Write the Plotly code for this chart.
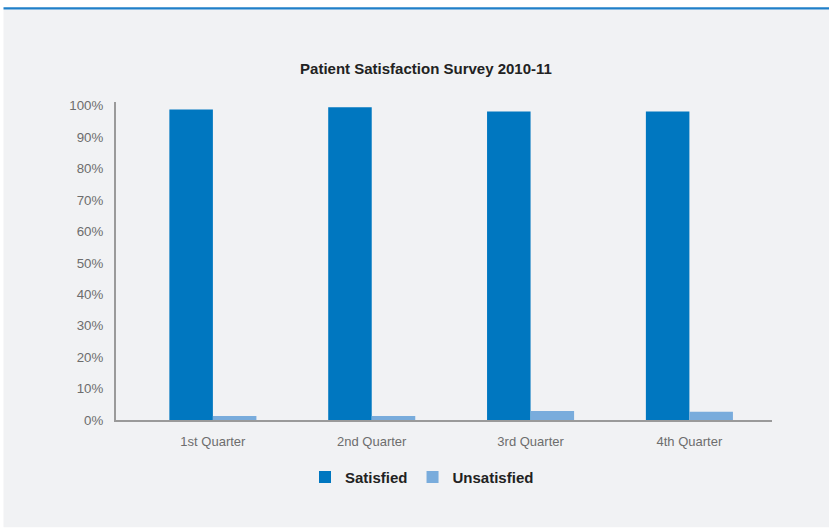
import plotly.graph_objects as go

# Survey results per quarter (percent of respondents)
quarters = ["1st Quarter", "2nd Quarter", "3rd Quarter", "4th Quarter"]
satisfied = [98.8, 99.5, 98.2, 98.2]
unsatisfied = [1.3, 1.3, 2.9, 2.6]
y_tick_values = [0, 10, 20, 30, 40, 50, 60, 70, 80, 90, 100]
y_tick_labels = ["0%", "10%", "20%", "30%", "40%", "50%",
                 "60%", "70%", "80%", "90%", "100%"]

W, H = 829, 529
# plot area in pixels
PL, PR, PT, PB = 116, 772, 101.7, 420.5


def xp(px):
    return (px - PL) / (PR - PL)


def yp(py):
    return (PB - py) / (PB - PT)


font_family = "Liberation Sans, Arial, Helvetica, sans-serif"

fig = go.Figure()
fig.add_trace(go.Bar(x=quarters, y=satisfied, name="Satisfied",
                     marker=dict(color="#0077c0", line=dict(width=0))))
fig.add_trace(go.Bar(x=quarters, y=unsatisfied, name="Unsatisfied",
                     marker=dict(color="#79acdc", line=dict(width=0))))

fig.update_layout(
    width=W, height=H,
    margin=dict(l=PL, r=W - PR, t=PT, b=H - PB, pad=0),
    paper_bgcolor="white",
    plot_bgcolor="rgba(0,0,0,0)",
    barmode="group", bargap=0.452, bargroupgap=0,
    font=dict(family=font_family, color="#6d6d6d", size=13),
    title=dict(text="<b>Patient Satisfaction Survey 2010-11</b>",
               x=xp(426), xref="paper", xanchor="center",
               y=1 - 69 / H, yref="container", yanchor="middle",
               font=dict(size=15, color="#222222", family=font_family)),
    legend=dict(orientation="h", x=xp(422), xanchor="center",
                y=yp(478), yanchor="middle",
                font=dict(size=15, color="#222222", family=font_family,
                          weight="bold"),
                bgcolor="rgba(0,0,0,0)", traceorder="normal",
                itemwidth=30),
    showlegend=True,
)

fig.update_xaxes(
    type="category", range=[-0.61, 3.52],
    showline=True, linecolor="#9a9a9a", linewidth=2,
    showgrid=False, zeroline=False, ticks="",
    tickfont=dict(size=13, color="#6d6d6d"),
    ticklabelstandoff=8,
)
fig.update_yaxes(
    range=[0, 101.2], tickmode="array",
    tickvals=y_tick_values, ticktext=y_tick_labels,
    showline=True, linecolor="#9a9a9a", linewidth=2,
    showgrid=False, zeroline=False, ticks="",
    tickfont=dict(size=13.3, color="#6d6d6d"),
    ticklabelstandoff=8,
)

# page background panel with a blue rule along its top edge
fig.add_shape(type="rect", xref="paper", yref="paper", layer="below",
              x0=xp(3.5), x1=xp(W + 2), y0=yp(9), y1=yp(H - 1),
              fillcolor="#f1f2f4", line=dict(width=0))
fig.add_shape(type="rect", xref="paper", yref="paper", layer="below",
              x0=xp(3.5), x1=xp(W + 2), y0=yp(6.7), y1=yp(9),
              fillcolor="#1f7fc9", line=dict(width=0))

fig.write_html("out.html")
